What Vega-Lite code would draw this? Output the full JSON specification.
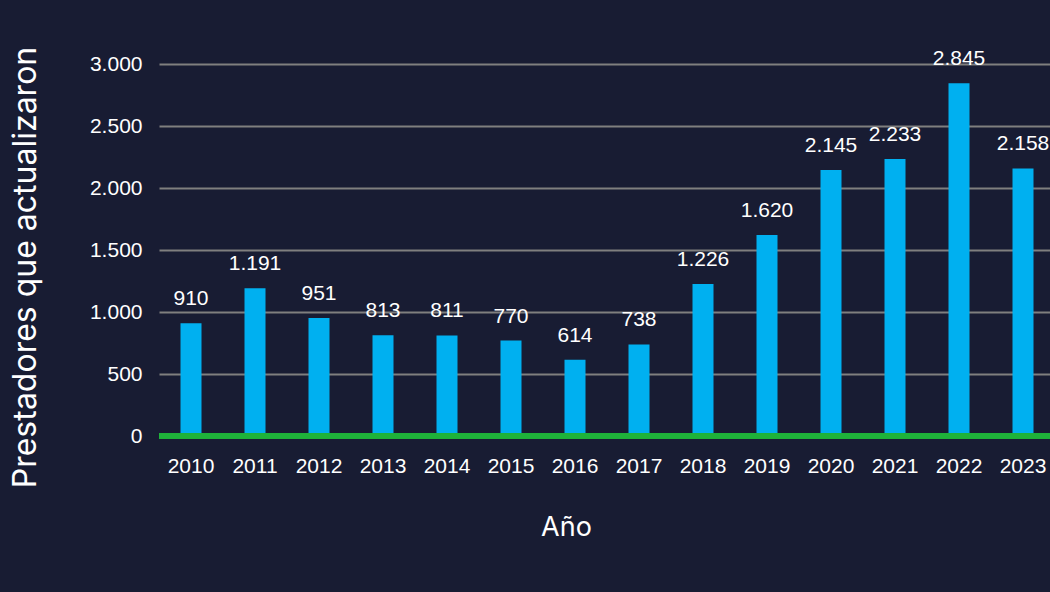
{
  "$schema": "https://vega.github.io/schema/vega-lite/v6.json",
  "autosize": "none",
  "padding": {"left": 159, "top": 64, "right": 0, "bottom": 156},
  "width": 891,
  "height": 372,
  "background": "#181c33",
  "data": {"values": [
    {"anio": "2010", "valor": 910},
    {"anio": "2011", "valor": 1191},
    {"anio": "2012", "valor": 951},
    {"anio": "2013", "valor": 813},
    {"anio": "2014", "valor": 811},
    {"anio": "2015", "valor": 770},
    {"anio": "2016", "valor": 614},
    {"anio": "2017", "valor": 738},
    {"anio": "2018", "valor": 1226},
    {"anio": "2019", "valor": 1620},
    {"anio": "2020", "valor": 2145},
    {"anio": "2021", "valor": 2233},
    {"anio": "2022", "valor": 2845},
    {"anio": "2023", "valor": 2158}
  ]},
  "encoding": {
    "x": {
      "field": "anio", "type": "ordinal",
      "scale": {"range": [0, 896], "paddingInner": 0, "paddingOuter": 0},
      "axis": {
        "title": "Año", "labelAngle": 0, "domain": false, "ticks": false,
        "labelPadding": 19, "labelFont": "Liberation Sans", "labelFontSize": 21,
        "labelColor": "#ffffff", "titleFont": "Inter", "titleFontSize": 27,
        "titleFontWeight": "normal", "titleColor": "#ffffff",
        "titleX": 407, "titleY": 91, "titleBaseline": "middle"
      }
    },
    "y": {
      "field": "valor", "type": "quantitative",
      "scale": {"domain": [0, 3000]},
      "axis": {
        "title": "Prestadores que actualizaron", "values": [0, 500, 1000, 1500, 2000, 2500, 3000],
        "format": ",d", "domain": false, "ticks": false, "labelPadding": 17,
        "labelFont": "Liberation Sans", "labelFontSize": 21, "labelColor": "#ffffff",
        "gridColor": "#7f7f7f", "gridWidth": 2,
        "titleFont": "Inter", "titleFontSize": 32, "titleFontWeight": "normal",
        "titleColor": "#ffffff", "titleX": -134, "titleY": 203,
        "titleAngle": -90, "titleBaseline": "middle", "titleAlign": "center"
      }
    }
  },
  "layer": [
    {"mark": {"type": "bar", "color": "#00b0f0", "size": 21}},
    {
      "mark": {"type": "text", "color": "#ffffff", "font": "Liberation Sans", "fontSize": 21, "dy": -18, "baseline": "alphabetic"},
      "encoding": {"text": {"field": "valor", "type": "quantitative", "format": ",d"}}
    },
    {
      "mark": {"type": "rule", "color": "#1fb23a", "strokeWidth": 5},
      "encoding": {"y": {"datum": 0}, "x": {"value": 0}, "x2": {"value": 891}}
    }
  ],
  "config": {
    "view": {"stroke": null},
    "locale": {"number": {"decimal": ",", "thousands": ".", "grouping": [3], "currency": ["", "€"]}}
  }
}
